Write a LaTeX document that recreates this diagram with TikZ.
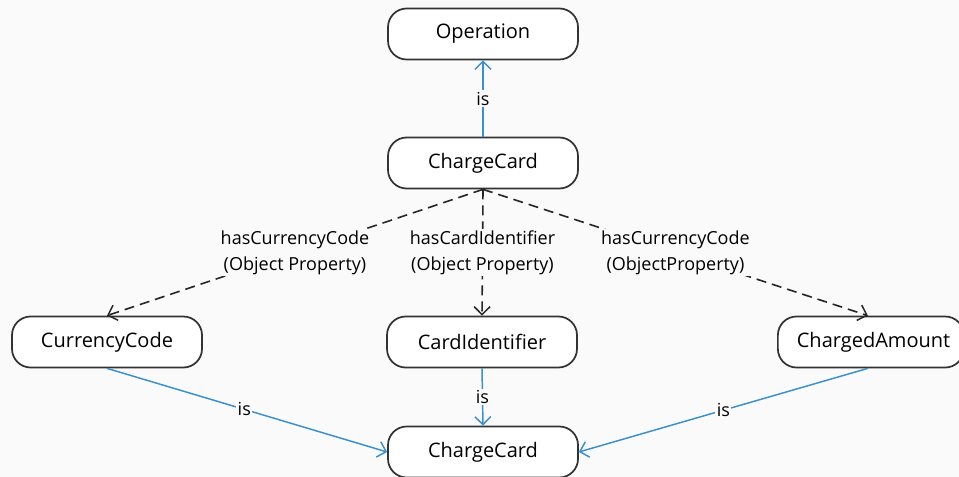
\documentclass[tikz,border=0pt]{standalone}
\usepackage{fontspec}
\setmainfont{Open Sans}
\usetikzlibrary{arrows.meta}
\definecolor{isblue}{HTML}{3A8FD0}
\definecolor{paper}{HTML}{FAFAFA}
\tikzset{
  concept/.style={draw=black!80, line width=1.3pt, fill=white, rounded corners=14,
    minimum width=190*0.75pt, minimum height=51*0.75pt, inner sep=0pt,
    font=\fontsize{15}{17}\selectfont},
  isedge/.style={draw=isblue, line width=1.1pt, -{Straight Barb[length=6pt,width=12pt,line width=1.1pt]}},
  propedge/.style={draw=black!85, line width=1.2pt, dash pattern=on 7.5pt off 4.5pt,
    -{Straight Barb[length=6pt,width=12pt,line width=1.1pt]}},
  elabel/.style={fill=paper, inner sep=1pt, font=\fontsize{13.5}{19.5}\selectfont, align=center},
}
\begin{document}
\begin{tikzpicture}[x=0.75pt,y=-0.75pt]
  \useasboundingbox (0,0) rectangle (959,477);
  \fill[paper] (0,0) rectangle (959,477);
  \clip (0,0) rectangle (959,477);

  % concepts
  \node[concept] (op)   at (483,34)  {Operation};
  \node[concept] (cc)   at (483,163) {ChargeCard};
  \node[concept] (cur)  at (107,342) {CurrencyCode};
  \node[concept] (cid)  at (482,342) {CardIdentifier};
  \node[concept, minimum width=186*0.75pt, anchor=west] (amt) at (777,342) {\hspace*{4pt}ChargedAmount};
  \node[concept] (ccb)  at (483,452) {ChargeCard};

  % "is" relations
  \draw[isedge] (cc.north) -- node[elabel]{is} (op.south);
  \draw[isedge] (cur.south) -- node[elabel, pos=0.49]{is} (ccb.west);
  \draw[isedge] (cid.south) -- node[elabel]{is} (ccb.north);
  \draw[isedge] ([xshift=-3*0.75pt]amt.south) -- node[elabel, pos=0.5]{is} (ccb.east);

  % object properties
  \coordinate (src) at (cc.south);
  \draw[propedge] (src) -- node[elabel, pos=0.5]{hasCurrencyCode\\(Object Property)} (cur.north);
  \draw[propedge] (src) -- node[elabel, pos=0.5]{hasCardIdentifier\\(Object Property)} (cid.north);
  \draw[propedge] (src) -- node[elabel, pos=0.5]{hasCurrencyCode\\(ObjectProperty)} ([xshift=-3*0.75pt]amt.north);
\end{tikzpicture}
\end{document}
